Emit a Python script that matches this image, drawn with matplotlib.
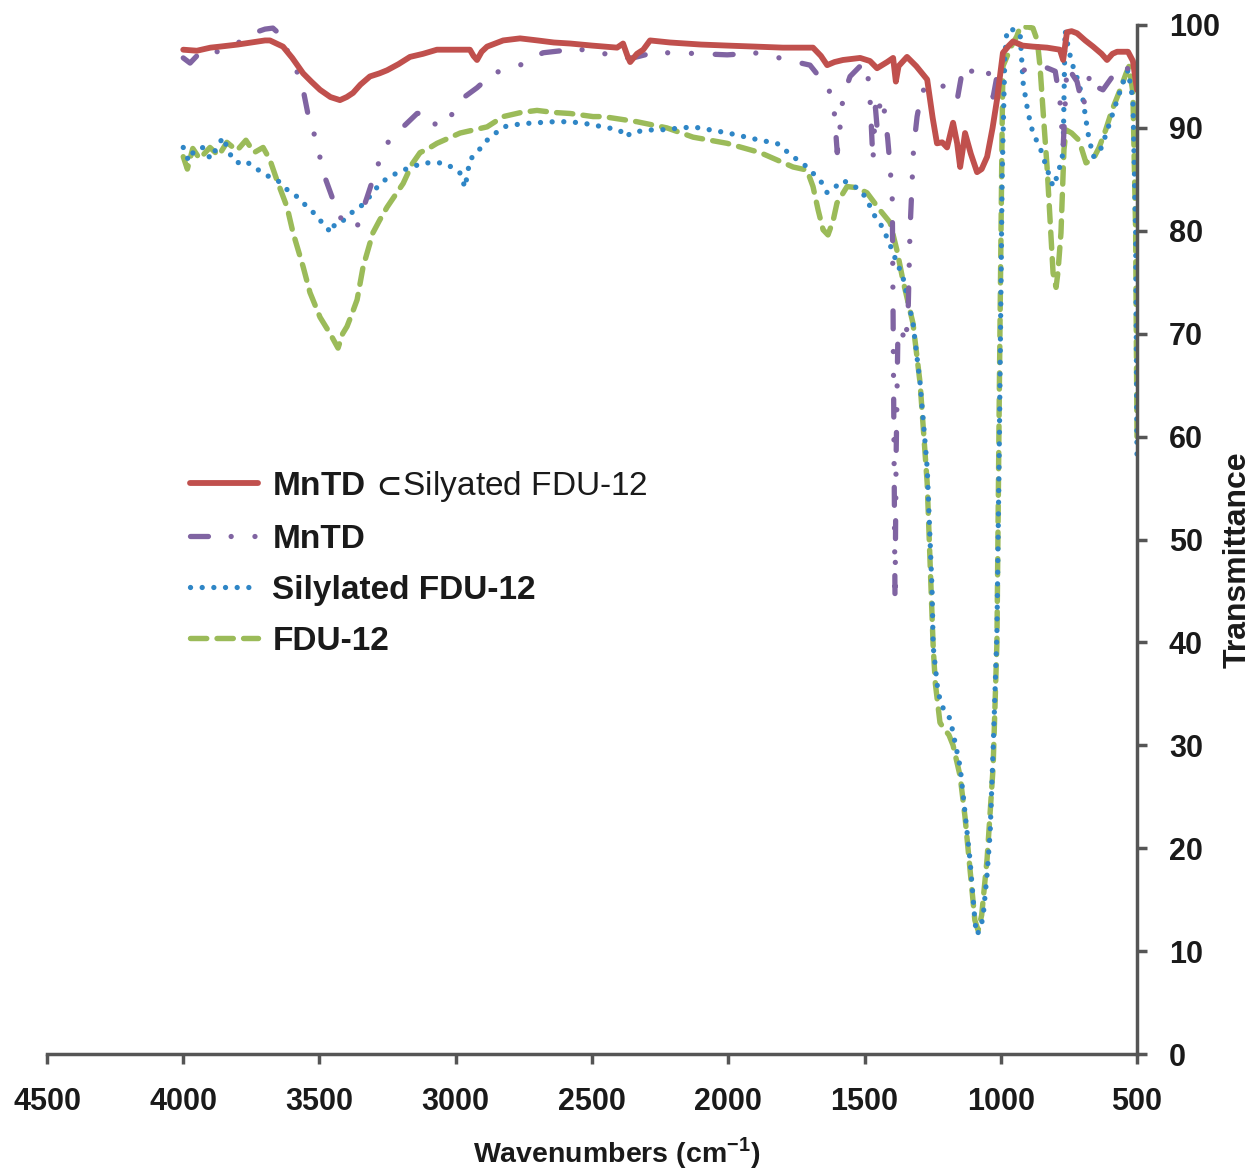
import matplotlib.pyplot as plt

plt.rcParams['font.family'] = ['Liberation Sans', 'DejaVu Sans']
plt.rcParams['mathtext.fontset'] = 'custom'
plt.rcParams['mathtext.rm'] = 'Liberation Sans'
plt.rcParams['mathtext.bf'] = 'Liberation Sans:bold'
plt.rcParams['mathtext.fallback'] = 'stixsans'

# ---- data (wavenumber, transmittance) ----
red_w = [4000, 3950, 3900, 3865, 3800, 3750, 3700, 3682, 3634, 3600, 3560, 3530, 3498, 3460,
         3425, 3400, 3377, 3350, 3315, 3280, 3252, 3210, 3168, 3120, 3069, 3000, 2948, 2935,
         2922, 2905, 2885, 2826, 2764, 2700, 2640, 2580, 2500, 2408, 2386, 2370, 2360, 2335,
         2312, 2287, 2214, 2100, 2004, 1900, 1800, 1689, 1660, 1637, 1610, 1579, 1516, 1480,
         1454, 1417, 1395, 1385, 1375, 1344, 1310, 1270, 1250, 1234, 1215, 1197, 1175, 1160,
         1149, 1140, 1131, 1110, 1087, 1070, 1050, 1030, 1014, 992, 970, 955, 920, 882, 830,
         783, 771, 757, 740, 720, 690, 661, 630, 610, 590, 573, 533, 515, 500]
red_t = [97.6, 97.5, 97.8, 97.9, 98.1, 98.3, 98.5, 98.5, 97.9, 96.8, 95.3, 94.5, 93.7, 93.0,
         92.7, 93.0, 93.4, 94.2, 95.0, 95.3, 95.6, 96.2, 96.9, 97.2, 97.6, 97.6, 97.6, 97.0,
         96.6, 97.4, 97.9, 98.5, 98.7, 98.5, 98.3, 98.2, 98.0, 97.8, 98.2, 97.0, 96.4, 97.2,
         97.6, 98.5, 98.3, 98.1, 98.0, 97.9, 97.8, 97.8, 97.0, 96.1, 96.4, 96.6, 96.8, 96.5,
         95.8, 96.4, 96.8, 94.5, 96.0, 96.9, 96.0, 94.7, 91.0, 88.5, 88.6, 88.1, 90.5, 88.5,
         86.2, 87.8, 89.5, 87.5, 85.7, 86.0, 87.2, 90.0, 92.7, 97.3, 98.0, 98.4, 98.0, 97.9, 97.8,
         97.6, 96.6, 99.3, 99.4, 99.2, 98.5, 97.9, 97.2, 96.6, 97.2, 97.4, 97.4, 96.5, 93.7]

purple_w = [4000, 3975, 3950, 3913, 3870, 3803, 3744, 3700, 3671, 3650, 3634, 3597, 3560, 3542,
            3509, 3487, 3450, 3413, 3380, 3362, 3325, 3289, 3252, 3193, 3142, 3110, 3094, 3069,
            3032, 2984, 2922, 2863, 2764, 2680, 2580, 2482, 2423, 2350, 2276, 2188, 2004, 1883,
            1784, 1700, 1652, 1615, 1600, 1590, 1579, 1553, 1505, 1491, 1480, 1469, 1460, 1454,
            1440, 1432, 1415, 1406, 1398, 1392, 1388, 1384, 1378, 1365, 1350, 1340, 1333, 1320,
            1307, 1290, 1270, 1230, 1197, 1160, 1138, 1110, 1087, 1050, 1028, 1003, 960, 918,
            880, 845, 800, 783, 771, 757, 720, 698, 672, 650, 625, 590, 562, 515, 500]
purple_t = [96.8, 96.3, 97.0, 96.8, 97.5, 98.2, 99.2, 99.6, 99.7, 99.2, 98.2, 96.6, 93.7, 91.3,
            88.5, 85.7, 83.0, 80.7, 80.2, 80.4, 83.3, 86.2, 88.5, 90.1, 91.4, 91.5, 91.1, 90.1,
            90.5, 92.7, 93.9, 95.3, 96.1, 97.3, 97.6, 97.6, 96.8, 96.8, 97.3, 97.3, 97.1, 97.3,
            96.6, 96.1, 94.5, 93.0, 87.6, 90.0, 93.0, 95.0, 96.3, 96.0, 93.0, 86.8, 92.0, 90.1,
            93.0, 92.7, 89.0, 86.2, 83.0, 60.0, 44.0, 58.0, 69.0, 70.5, 69.0, 72.0, 80.0, 88.0,
            91.1, 93.5, 94.0, 94.5, 93.7, 92.7, 96.0, 95.5, 95.6, 96.0, 93.0, 96.6, 96.0, 95.6,
            95.8, 96.0, 95.5, 92.7, 88.1, 96.0, 94.5, 92.0, 95.3, 94.0, 93.7, 95.0, 96.0, 95.6, 95.0]

blue_w = [4000, 3980, 3960, 3927, 3900, 3854, 3830, 3803, 3770, 3744, 3710, 3682, 3650, 3619,
          3590, 3560, 3530, 3498, 3475, 3461, 3440, 3413, 3380, 3351, 3310, 3278, 3240, 3193,
          3150, 3120, 3047, 3000, 2984, 2966, 2948, 2910, 2885, 2826, 2760, 2702, 2640, 2580,
          2520, 2459, 2400, 2372, 2360, 2300, 2250, 2129, 2000, 1883, 1821, 1762, 1720, 1689,
          1660, 1637, 1610, 1579, 1550, 1516, 1490, 1469, 1440, 1413, 1390, 1359, 1322, 1296,
          1270, 1252, 1248, 1230, 1210, 1197, 1185, 1175, 1149, 1131, 1113, 1094, 1087, 1075,
          1065, 1050, 1039, 1028, 1014, 1005, 995, 985, 977, 960, 940, 929, 918, 900, 882, 856,
          830, 808, 790, 771, 764, 750, 735, 715, 698, 680, 661, 640, 625, 600, 573, 550, 533,
          515, 505, 500]
blue_t = [88.1, 86.8, 87.8, 88.1, 87.0, 89.1, 87.5, 86.6, 86.8, 86.2, 85.7, 85.2, 84.8, 84.0,
          83.5, 82.7, 82.0, 81.0, 80.5, 79.8, 80.8, 81.0, 81.8, 82.3, 83.5, 84.6, 85.3, 85.9,
          86.3, 86.6, 86.6, 86.0, 85.6, 84.2, 86.9, 88.0, 88.8, 90.1, 90.4, 90.5, 90.6, 90.6,
          90.4, 90.1, 89.8, 89.1, 89.5, 89.8, 89.8, 90.1, 89.5, 88.8, 88.5, 87.2, 86.4, 85.6,
          84.8, 83.7, 84.2, 84.9, 84.5, 84.0, 83.0, 81.7, 80.6, 79.1, 77.5, 75.5, 71.0, 65.2,
          57.0, 45.0, 39.6, 35.1, 33.5, 33.1, 32.5, 31.2, 27.9, 23.4, 18.9, 12.7, 11.6, 12.2,
          13.3, 17.5, 21.5, 29.5, 40.9, 60.0, 85.0, 97.0, 99.5, 99.6, 99.3, 99.2, 94.4, 91.5,
          89.5, 88.1, 86.0, 84.3, 85.5, 87.6, 99.5, 97.5, 96.0, 94.5, 92.7, 89.5, 87.2, 87.5,
          88.5, 90.5, 92.7, 94.5, 95.6, 92.7, 80.0, 58.0]

green_w = [4000, 3985, 3965, 3940, 3902, 3870, 3840, 3803, 3770, 3740, 3707, 3682, 3656, 3619,
           3597, 3560, 3535, 3498, 3461, 3432, 3415, 3399, 3380, 3362, 3340, 3304, 3280, 3252,
           3193, 3160, 3131, 3100, 3069, 2984, 2885, 2826, 2760, 2702, 2640, 2580, 2496, 2459,
           2335, 2225, 2129, 2004, 1883, 1762, 1711, 1689, 1670, 1652, 1634, 1615, 1601, 1564,
           1530, 1491, 1443, 1406, 1380, 1359, 1322, 1296, 1270, 1248, 1240, 1223, 1205, 1190,
           1175, 1149, 1131, 1113, 1095, 1083, 1070, 1050, 1028, 1014, 1005, 995, 992, 960, 941,
           929, 900, 882, 866, 856, 843, 830, 808, 797, 790, 779, 768, 760, 740, 713, 687, 660,
           639, 615, 592, 565, 540, 529, 515, 505, 500]
green_t = [87.2, 86.0, 88.0, 87.0, 88.1, 87.3, 88.6, 87.8, 88.8, 87.6, 88.1, 86.9, 84.9, 82.3,
           79.8, 76.5, 74.0, 71.6, 70.0, 68.6, 70.0, 70.7, 72.0, 73.3, 76.5, 79.8, 81.0, 82.3,
           84.6, 86.5, 87.6, 88.0, 88.5, 89.5, 90.1, 91.1, 91.5, 91.7, 91.5, 91.4, 91.1, 91.1,
           90.6, 90.0, 89.1, 88.5, 87.6, 86.2, 85.9, 84.3, 82.0, 80.1, 79.6, 81.0, 82.7, 84.3,
           84.2, 83.7, 82.0, 80.8, 78.0, 75.2, 71.0, 65.2, 55.5, 39.6, 36.0, 32.2, 31.5, 31.0,
           30.0, 27.0, 23.0, 18.0, 13.0, 12.0, 13.5, 19.0, 27.9, 40.0, 65.0, 90.0, 96.0, 98.0, 98.9,
           99.8, 99.8, 99.7, 98.5, 96.0, 91.0, 86.2, 75.9, 74.5, 76.0, 79.8, 87.9, 89.8, 89.5,
           88.8, 86.6, 87.0, 88.1, 89.8, 91.7, 93.5, 95.3, 96.0, 93.4, 80.0, 60.0]

labels = [r'$\mathbf{MnTD}\,\mathbf{\subset}\!$Silyated FDU-12', 'MnTD', 'Silylated FDU-12', 'FDU-12']
x_ticks = [4500, 4000, 3500, 3000, 2500, 2000, 1500, 1000, 500]
y_ticks = [0, 10, 20, 30, 40, 50, 60, 70, 80, 90, 100]

fig = plt.figure(figsize=(12.53, 11.71), dpi=100)
ax = fig.add_axes([47 / 1253, 117 / 1171, 1090 / 1253, 1029 / 1171])

l_green, = ax.plot(green_w, green_t, color='#9BBB59', lw=3.9, linestyle=(0, (3.0, 1.9)),
                   dash_capstyle='round', solid_joinstyle='round')
l_blue, = ax.plot(blue_w, blue_t, color='#2F86C6', lw=3.8, linestyle=(0, (0.01, 2.2)),
                  dash_capstyle='round')
l_purple, = ax.plot(purple_w, purple_t, color='#8064A2', lw=3.8,
                    linestyle=(0, (3.4, 4.3, 0.01, 4.5, 0.01, 4.5)), dash_capstyle='round')
l_red, = ax.plot(red_w, red_t, color='#C0504D', lw=4.2, solid_capstyle='round')

ax.set_xlim(4500, 500)
ax.set_ylim(0, 100)
ax.set_xticks(x_ticks)
ax.set_yticks(y_ticks)

for s in ['top', 'left']:
    ax.spines[s].set_visible(False)
for s in ['bottom', 'right']:
    ax.spines[s].set_color('#555555')
    ax.spines[s].set_linewidth(2.5)

ax.yaxis.tick_right()
ax.yaxis.set_label_position('right')
ax.tick_params(axis='x', direction='out', length=7, width=2.5, color='#555555',
               pad=17, labelsize=22)
ax.tick_params(axis='y', direction='out', length=7, width=2.5, color='#555555',
               pad=16, labelsize=22)
for t in ax.get_xticklabels() + ax.get_yticklabels():
    t.set_fontweight('bold')
    t.set_color('#1a1a1a')

ax.set_xlabel(r'Wavenumbers (cm$^{\mathbf{-1}}$)', fontsize=20.5, fontweight='bold', color='#1a1a1a')
ax.xaxis.set_label_coords(0.523, -0.079)
ax.set_ylabel('Transmittance', fontsize=23, fontweight='bold', color='#1a1a1a')
ax.yaxis.set_label_coords(1.079, 0.48)

leg = fig.legend([l_red, l_purple, l_blue, l_green], labels, loc='upper left',
                 bbox_to_anchor=(190 / 1253, 1 - 469 / 1171), frameon=False,
                 fontsize=24, handlelength=2.05, handletextpad=0.42, labelspacing=0.6,
                 borderpad=0, borderaxespad=0)
for t in leg.get_texts()[1:]:
    t.set_fontweight('bold')
for t in leg.get_texts():
    t.set_color('#1a1a1a')

fig.savefig('out.png', dpi=100)
